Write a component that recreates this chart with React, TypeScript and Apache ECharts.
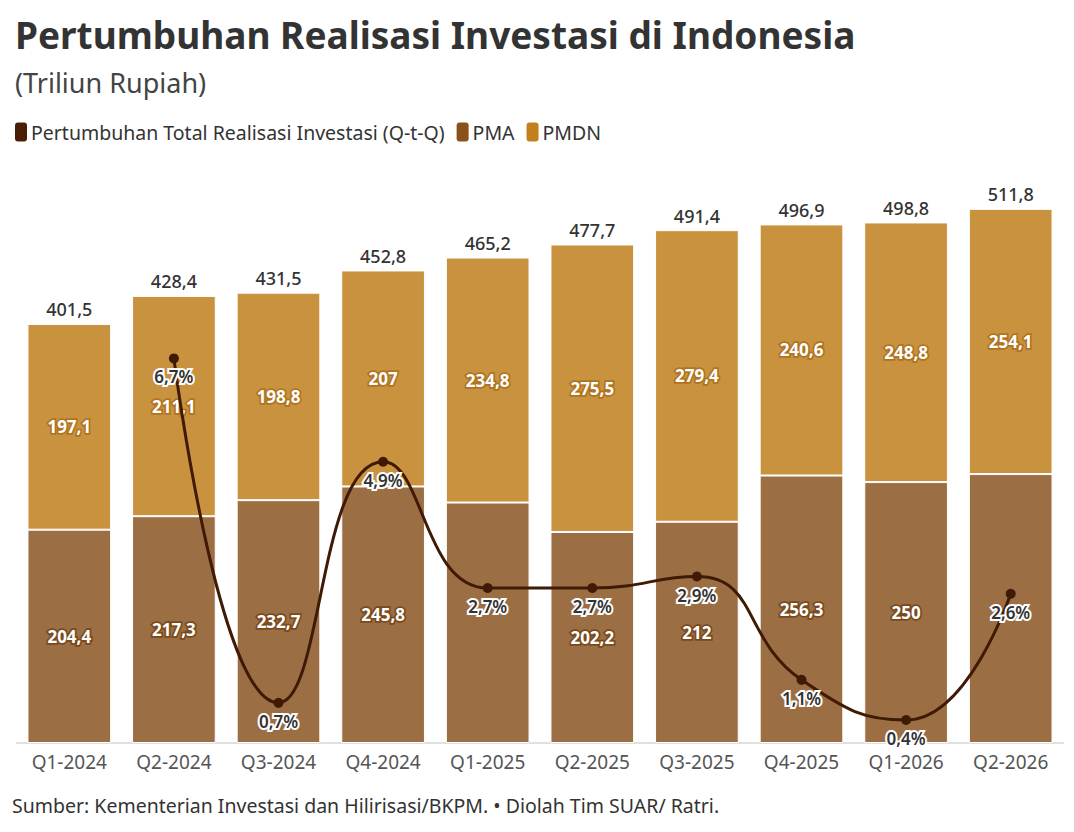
import React, { useEffect, useRef } from "react";
import * as echarts from "echarts";

// Quarterly investment realisation (trillion rupiah) and Q-t-Q growth (%)
const quarters = [
  "Q1-2024", "Q2-2024", "Q3-2024", "Q4-2024", "Q1-2025",
  "Q2-2025", "Q3-2025", "Q4-2025", "Q1-2026", "Q2-2026",
];
const pma = [204.4, 217.3, 232.7, 245.8, 230.4, 202.2, 212, 256.3, 250, 257.7];
const pmdn = [197.1, 211.1, 198.8, 207, 234.8, 275.5, 279.4, 240.6, 248.8, 254.1];
const growth = [null, 6.7, 0.7, 4.9, 2.7, 2.7, 2.9, 1.1, 0.4, 2.6];
// PMA labels left out where the growth label sits on top of them
const pmaLabelHidden = [4, 9];

const FONT = "'Noto Sans', sans-serif";
const LINE_COLOR = "#3f1a05";
const PMA_LEGEND = "#8a521a";
const PMDN_LEGEND = "#c47f1c";
const PMA_BAR = "#9c6e44";
const PMDN_BAR = "#c9923f";

const fmt = (v: number) => String(Math.round(v * 10) / 10).replace(".", ",");

export default function App() {
  const ref = useRef<HTMLDivElement>(null);

  useEffect(() => {
    if (!ref.current) return;
    const chart = echarts.init(ref.current, undefined, { renderer: "svg" });
    const totals = pma.map((v, i) => Math.round((v + pmdn[i]) * 10) / 10);

    const insideLabel = (border: string) => ({
      show: true,
      position: "inside",
      color: "#fff",
      fontFamily: FONT,
      fontWeight: 700,
      fontSize: 17,
      textBorderColor: border,
      textBorderWidth: 3.5,
      formatter: (p: any) => fmt(p.value),
    });

    chart.setOption({
      animation: false,
      backgroundColor: "#fff",
      textStyle: { fontFamily: FONT },
      title: [
        {
          text: "Pertumbuhan Realisasi Investasi di Indonesia",
          left: 10,
          top: 11,
          textStyle: { fontFamily: FONT, fontWeight: 700, fontSize: 37, color: "#333" },
        },
        {
          text: "(Triliun Rupiah)",
          left: 10,
          top: 64,
          textStyle: { fontFamily: FONT, fontWeight: 400, fontSize: 27, color: "#444" },
        },
      ],
      legend: {
        left: 10,
        top: 117,
        icon: "roundRect",
        itemWidth: 12,
        itemHeight: 19,
        itemGap: 12,
        itemStyle: { borderWidth: 0 },
        textStyle: { fontFamily: FONT, fontSize: 19.5, color: "#333", padding: [0, 0, 0, -1] },
        data: [
          { name: "Pertumbuhan Total Realisasi Investasi (Q-t-Q)", itemStyle: { color: "#4a1e06" } },
          { name: "PMA", itemStyle: { color: PMA_LEGEND } },
          { name: "PMDN", itemStyle: { color: PMDN_LEGEND } },
        ],
      },
      graphic: [
        {
          type: "text",
          left: 12,
          top: 795,
          style: {
            text: "Sumber: Kementerian Investasi dan Hilirisasi/BKPM. • Diolah Tim SUAR/ Ratri.",
            fontFamily: FONT,
            fontSize: 19.5,
            fill: "#333",
          },
        },
      ],
      grid: { left: 17, right: 11, top: 169, bottom: 89 },
      xAxis: {
        type: "category",
        data: quarters,
        axisLine: { lineStyle: { color: "#e0e0e0", width: 2 } },
        axisTick: { alignWithLabel: true, length: 6, lineStyle: { color: "#e0e0e0" } },
        axisLabel: { color: "#555", fontFamily: FONT, fontSize: 19, margin: 9 },
      },
      yAxis: [
        { type: "value", min: 0, max: 550, show: false },
        { type: "value", min: 0, max: 10, show: false },
      ],
      series: [
        {
          name: "PMA",
          type: "bar",
          stack: "total",
          barCategoryGap: "20%",
          itemStyle: { color: PMA_BAR, borderColor: "#fff", borderWidth: 1 },
          label: insideLabel("#7a4a1c"),
          data: pma.map((v, i) =>
            pmaLabelHidden.includes(i) ? { value: v, label: { show: false } } : v
          ),
        },
        {
          name: "PMDN",
          type: "bar",
          stack: "total",
          itemStyle: { color: PMDN_BAR, borderColor: "#fff", borderWidth: 1 },
          label: insideLabel("#b0741f"),
          data: pmdn,
        },
        {
          name: "Total",
          type: "line",
          data: totals,
          symbol: "circle",
          symbolSize: 1,
          itemStyle: { color: "rgba(0,0,0,0)" },
          lineStyle: { width: 0, color: "rgba(0,0,0,0)" },
          silent: true,
          label: {
            show: true,
            position: "top",
            distance: 5,
            color: "#333",
            fontFamily: FONT,
            fontWeight: 500,
            fontSize: 18,
            formatter: (p: any) => fmt(p.value),
          },
          z: 1,
        },
        {
          name: "Pertumbuhan Total Realisasi Investasi (Q-t-Q)",
          type: "line",
          yAxisIndex: 1,
          data: growth,
          smooth: true,
          symbol: "circle",
          symbolSize: 10,
          itemStyle: { color: LINE_COLOR },
          lineStyle: { color: LINE_COLOR, width: 3 },
          label: {
            show: true,
            position: "bottom",
            distance: 5,
            color: "#333",
            fontFamily: FONT,
            fontWeight: 600,
            fontSize: 17,
            textBorderColor: "#fff",
            textBorderWidth: 4,
            formatter: (p: any) => (p.value == null ? "" : `${fmt(p.value)}%`),
          },
          z: 5,
        },
      ],
    });

    return () => chart.dispose();
  }, []);

  return (
    <div
      ref={ref}
      style={{ position: "absolute", left: 0, top: 0, width: 1074, height: 832 }}
    />
  );
}
